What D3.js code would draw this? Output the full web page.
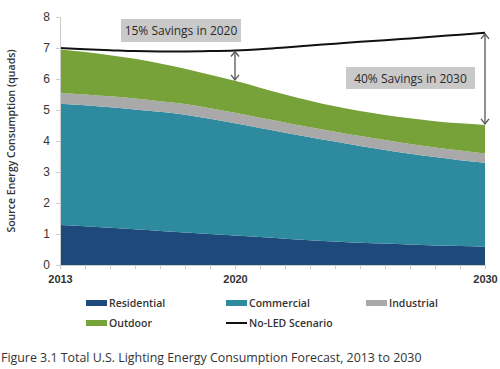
<!DOCTYPE html>
<html>
<head>
<meta charset="utf-8">
<script src="https://cdn.jsdelivr.net/npm/d3@7/dist/d3.min.js"></script>
<style>
  body { margin: 0; background: #fff; }
  svg { display: block; font-family: "Open Sans", "DejaVu Sans", sans-serif; }
</style>
</head>
<body>
<div id="chart"></div>
<script>
// data (quads)
var years = [2013, 2014, 2015, 2016, 2017, 2018, 2019, 2020, 2021, 2022, 2023, 2024, 2025, 2026, 2027, 2028, 2029, 2030];
var residential = [1.29, 1.25, 1.20, 1.15, 1.10, 1.05, 1.00, 0.95, 0.90, 0.85, 0.80, 0.76, 0.72, 0.69, 0.66, 0.63, 0.61, 0.59];
var commercial  = [3.91, 3.90, 3.89, 3.87, 3.84, 3.80, 3.72, 3.62, 3.52, 3.42, 3.32, 3.22, 3.12, 3.02, 2.93, 2.85, 2.77, 2.71];
var industrial  = [0.36, 0.35, 0.35, 0.35, 0.34, 0.34, 0.34, 0.34, 0.33, 0.33, 0.32, 0.32, 0.32, 0.32, 0.31, 0.31, 0.31, 0.30];
var outdoor     = [1.39, 1.37, 1.33, 1.28, 1.22, 1.14, 1.08, 1.03, 0.97, 0.90, 0.86, 0.82, 0.81, 0.81, 0.83, 0.85, 0.88, 0.92];
var noLed       = [7.00, 6.96, 6.93, 6.90, 6.89, 6.89, 6.90, 6.92, 6.96, 7.02, 7.08, 7.14, 7.20, 7.25, 7.31, 7.37, 7.43, 7.49];
var yTicks = [0, 1, 2, 3, 4, 5, 6, 7, 8];
var xLabels = [2013, 2020, 2030];
var seriesNames = ["Residential", "Commercial", "Industrial", "Outdoor"];
var callouts = [{ year: 2020, text: "15% Savings in 2020" }, { year: 2030, text: "40% Savings in 2030" }];

var colors = { Residential: "#1e4a7b", Commercial: "#2e8a9e", Industrial: "#a9a9a9", Outdoor: "#77a23a" };
var textColor = "#333";

var W = 500, H = 369;
var margin = { top: 17, right: 15, bottom: 104, left: 60 };
var width = W - margin.left - margin.right,
    height = H - margin.top - margin.bottom;

var svg = d3.select("#chart").append("svg")
    .attr("width", W)
    .attr("height", H);
var g = svg.append("g")
    .attr("transform", "translate(" + margin.left + "," + margin.top + ")");

var x = d3.scaleLinear().domain([2013, 2030]).range([0, 425]);
var y = d3.scaleLinear().domain([0, 8]).range([height, 0]);

var rows = years.map(function(yr, i) {
    return { year: yr, Residential: residential[i], Commercial: commercial[i],
             Industrial: industrial[i], Outdoor: outdoor[i], noLed: noLed[i] };
});
var stacked = d3.stack().keys(seriesNames)(rows);

var area = d3.area()
    .x(function(d) { return x(d.data.year); })
    .y0(function(d) { return y(d[0]); })
    .y1(function(d) { return y(d[1]); })
    .curve(d3.curveMonotoneX);

g.selectAll("path.layer").data(stacked).enter().append("path")
    .attr("class", "layer")
    .attr("fill", function(d) { return colors[d.key]; })
    .attr("d", area);

var line = d3.line()
    .x(function(d) { return x(d.year); })
    .y(function(d) { return y(d.noLed); })
    .curve(d3.curveMonotoneX);
g.append("path").datum(rows)
    .attr("fill", "none").attr("stroke", "#111").attr("stroke-width", 2)
    .attr("d", line);

// axes
var yAxis = d3.axisLeft(y).tickValues(yTicks).tickSize(4).tickPadding(6).tickFormat(d3.format("d"));
var gy = g.append("g").call(yAxis);
gy.select(".domain").attr("stroke", "#ccc");
gy.selectAll(".tick line").attr("stroke", "#ccc");
gy.selectAll(".tick text").attr("fill", textColor).style("font-size", "12px");

var xAxis = d3.axisBottom(x).tickValues(years).tickSize(4).tickPadding(6)
    .tickFormat(function(d) { return xLabels.indexOf(d) >= 0 ? d : ""; });
var gx = g.append("g").attr("transform", "translate(0," + height + ")").call(xAxis);
gx.select(".domain").attr("stroke", "#ccc");
gx.selectAll(".tick line").attr("stroke", "#ccc");
gx.selectAll(".tick text").attr("fill", textColor).style("font-size", "11px").style("font-weight", "600");

g.append("text")
    .attr("transform", "translate(-45," + (height / 2) + ") rotate(-90)")
    .attr("text-anchor", "middle")
    .attr("fill", textColor)
    .style("font-size", "10.5px").style("font-weight", "600")
    .text("Source Energy Consumption (quads)");

// savings arrows
callouts.forEach(function(c) {
    var i = years.indexOf(c.year);
    var top = y(noLed[i]), bot = y(stacked[3][i][1]), cx = x(c.year);
    var a = g.append("g").attr("stroke", "#555").attr("stroke-width", 1.3).attr("fill", "none");
    a.append("line").attr("x1", cx).attr("x2", cx).attr("y1", top + 1).attr("y2", bot - 1);
    a.append("path").attr("d", "M" + (cx - 4) + "," + (top + 6) + "L" + cx + "," + (top + 1) + "L" + (cx + 4) + "," + (top + 6));
    a.append("path").attr("d", "M" + (cx - 4) + "," + (bot - 6) + "L" + cx + "," + (bot - 1) + "L" + (cx + 4) + "," + (bot - 6));
});

// callout boxes
var boxes = [{ x0: 121, x1: 241, y0: 19, y1: 42 }, { x0: 346, x1: 475, y0: 67, y1: 89 }];
callouts.forEach(function(c, i) {
    var b = boxes[i];
    svg.append("rect").attr("x", b.x0).attr("y", b.y0)
        .attr("width", b.x1 - b.x0).attr("height", b.y1 - b.y0).attr("fill", "#c9c9c9");
    svg.append("text").attr("x", (b.x0 + b.x1) / 2).attr("y", (b.y0 + b.y1) / 2 + 4.5)
        .attr("text-anchor", "middle").attr("fill", "#2a2a2a")
        .style("font-size", "12px").style("font-weight", "500")
        .text(c.text);
});

// legend
var legendItems = [
    { name: "Residential", type: "area", col: 0, row: 0 },
    { name: "Commercial", type: "area", col: 1, row: 0 },
    { name: "Industrial", type: "area", col: 2, row: 0 },
    { name: "Outdoor", type: "area", col: 0, row: 1 },
    { name: "No-LED Scenario", type: "line", col: 1, row: 1 }
];
var lg = svg.append("g");
legendItems.forEach(function(it) {
    var lx = 86 + it.col * 140, ly = 303 + it.row * 20;
    if (it.type === "area") {
        lg.append("rect").attr("x", lx).attr("y", ly - 3).attr("width", 21).attr("height", 6).attr("fill", colors[it.name]);
    } else {
        lg.append("line").attr("x1", lx).attr("x2", lx + 21).attr("y1", ly).attr("y2", ly)
            .attr("stroke", "#111").attr("stroke-width", 2);
    }
    lg.append("text").attr("x", lx + 23).attr("y", ly + 4)
        .attr("fill", textColor).style("font-size", "10.5px").style("font-weight", "600")
        .text(it.name);
});

svg.append("text").attr("x", 1).attr("y", 362)
    .attr("fill", textColor).style("font-size", "12.4px")
    .text("Figure 3.1 Total U.S. Lighting Energy Consumption Forecast, 2013 to 2030");
</script>
</body>
</html>
